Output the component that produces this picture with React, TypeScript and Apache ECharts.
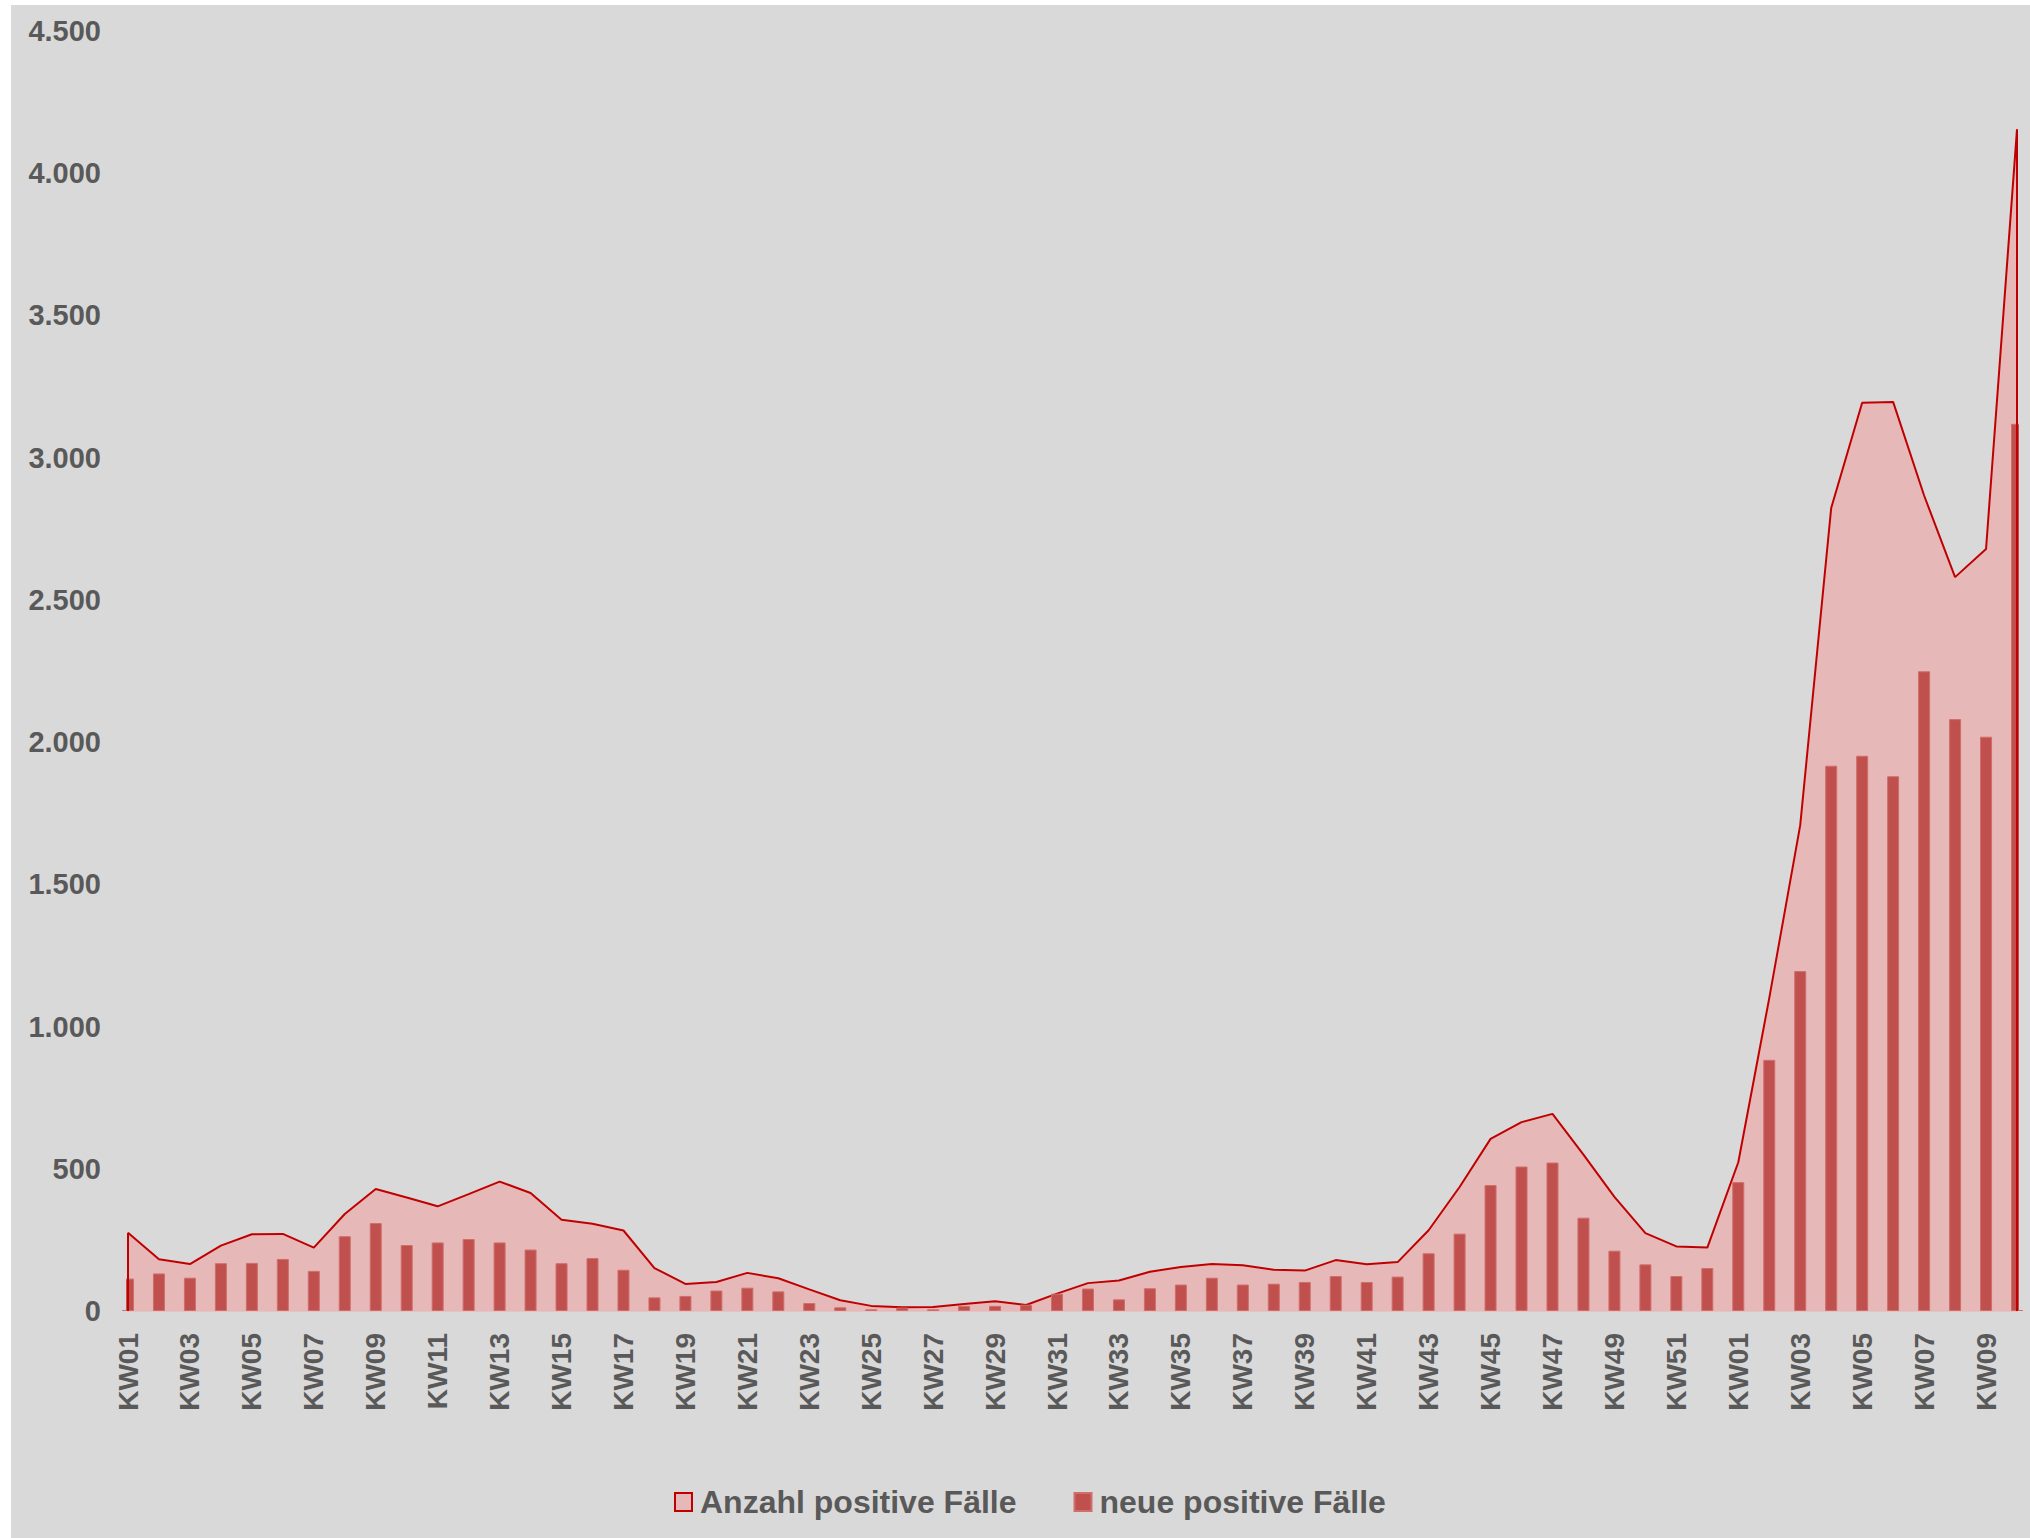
import React, { useEffect, useRef } from "react";
import * as echarts from "echarts";

const categories: string[] = [
  ...Array.from({ length: 52 }, (_, i) => "KW" + String(i + 1).padStart(2, "0")),
  ...Array.from({ length: 10 }, (_, i) => "KW" + String(i + 1).padStart(2, "0")),
];

const totalPositive: number[] = [
  275, 182, 165, 230, 270, 271, 223, 341, 429, 399,
  368, 411, 455, 415, 321, 307, 283, 151, 95, 102,
  134, 115, 76, 38, 18, 13, 14, 25, 34, 21,
  61, 98, 107, 138, 155, 165, 161, 145, 142, 179,
  164, 172, 284, 436, 605, 664, 693, 550, 401, 274,
  227, 223, 523, 1100, 1708, 2823, 3193, 3196, 2867, 2580,
  2679, 4154,
];

const newPositive: number[] = [
  114, 132, 117, 168, 169, 183, 141, 263, 309, 232,
  241, 253, 241, 216, 168, 186, 145, 48, 53, 72,
  82, 69, 28, 13, 6, 12, 6, 18, 18, 22,
  61, 79, 41, 80, 93, 117, 93, 96, 102, 123,
  102, 121, 203, 272, 443, 508, 522, 328, 212, 164,
  123, 151, 453, 883, 1195, 1917, 1952, 1880, 2249, 2081,
  2019, 3119,
];

const seriesNames: string[] = ["Anzahl positive Fälle", "neue positive Fälle"];

const FONT = "'Liberation Sans', Arial, sans-serif";
const TEXT_COLOR = "#595959";
const BG = "#d9d9d9";

const W = 2019;
const H = 1533;
const GRID_LEFT = 117;
const GRID_RIGHT = 13;
const GRID_TOP = 26;
const GRID_BOTTOM = 227;

function fmt(v: number): string {
  return String(v).replace(/\B(?=(\d{3})+(?!\d))/g, ".");
}

export default function App() {
  const ref = useRef<HTMLDivElement>(null);

  useEffect(() => {
    if (!ref.current) return;
    const chart = echarts.init(ref.current, undefined, { renderer: "svg" });
    const last = categories.length - 1;
    const plotBottom = H - GRID_BOTTOM;
    chart.setOption({
      animation: false,
      backgroundColor: BG,
      textStyle: { fontFamily: FONT },
      grid: { left: GRID_LEFT, right: GRID_RIGHT, top: GRID_TOP, bottom: GRID_BOTTOM, containLabel: false },
      graphic: [
        {
          type: "rect",
          z: 100,
          silent: true,
          shape: { x: GRID_LEFT - 9, y: 0, width: 7, height: plotBottom - 1 },
          style: { fill: BG },
        },
        {
          type: "rect",
          z: 100,
          silent: true,
          shape: { x: W - GRID_RIGHT + 2, y: 0, width: GRID_RIGHT, height: plotBottom - 1 },
          style: { fill: BG },
        },
      ],
      legend: {
        top: 1476,
        left: 658,
        itemWidth: 17,
        itemHeight: 18,
        itemGap: 57,
        textStyle: { fontSize: 32, fontWeight: "bold", color: TEXT_COLOR, fontFamily: FONT, padding: [0, 0, 0, 3] },
        data: [
          {
            name: seriesNames[0],
            icon: "rect",
            itemStyle: { color: "#e6b8b7", borderColor: "#c00000", borderWidth: 2 },
          },
          { name: seriesNames[1], icon: "rect", itemStyle: { color: "#c0504d" } },
        ],
      },
      xAxis: {
        type: "category",
        data: categories,
        boundaryGap: false,
        axisLine: { show: true, lineStyle: { color: "#e3c4c4", width: 2 } },
        axisTick: { show: false },
        splitLine: { show: false },
        axisLabel: {
          interval: 1,
          rotate: 90,
          margin: 22,
          fontSize: 28,
          fontWeight: "bold",
          color: TEXT_COLOR,
          fontFamily: FONT,
        },
      },
      yAxis: {
        type: "value",
        min: 0,
        max: 4500,
        interval: 500,
        axisLine: { show: false },
        axisTick: { show: false },
        splitLine: { show: false },
        axisLabel: {
          margin: 27,
          fontSize: 29,
          fontWeight: "bold",
          color: TEXT_COLOR,
          fontFamily: FONT,
          formatter: (v: number) => fmt(v),
        },
      },
      series: [
        {
          name: seriesNames[0],
          type: "line",
          data: totalPositive,
          symbol: "none",
          z: 1,
          lineStyle: { color: "#c00000", width: 2 },
          itemStyle: { color: "#e6b8b7" },
          areaStyle: { color: "#e6b8b7", opacity: 1 },
          markLine: {
            silent: true,
            z: 200,
            symbol: ["none", "none"],
            label: { show: false },
            lineStyle: { color: "#c00000", width: 2, type: "solid" },
            data: [
              [
                { coord: [0, 0] },
                { coord: [0, totalPositive[0]] },
              ],
              [
                { coord: [last, 0] },
                { coord: [last, totalPositive[last]] },
              ],
            ],
          },
        },
        {
          name: seriesNames[1],
          type: "bar",
          data: newPositive,
          barWidth: 12,
          z: 3,
          itemStyle: { color: "#c0504d", borderColor: "#cf6e6b", borderWidth: 1 },
        },
      ],
    });
    return () => chart.dispose();
  }, []);

  return (
    <div
      style={{
        position: "absolute",
        left: 0,
        top: 0,
        width: 2030,
        height: 1538,
        background: "#ffffff",
      }}
    >
      <div
        ref={ref}
        style={{ position: "absolute", left: 11, top: 5, width: W, height: H }}
      />
    </div>
  );
}
